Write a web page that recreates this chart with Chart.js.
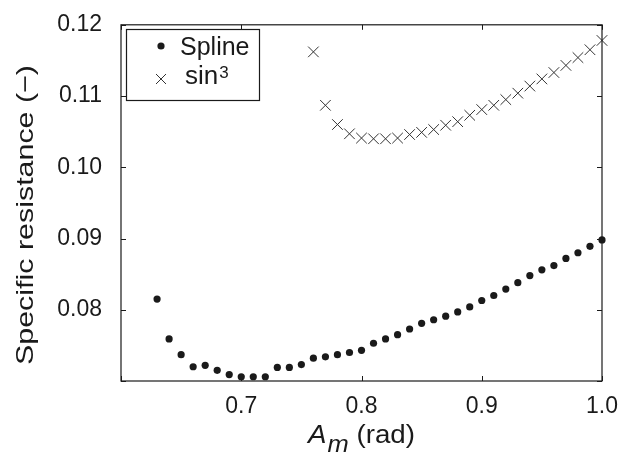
<!DOCTYPE html>
<html>
<head>
<meta charset="utf-8">
<script src="https://cdn.jsdelivr.net/npm/chart.js@4.4.1/dist/chart.umd.min.js"></script>
<style>
  html, body { margin: 0; padding: 0; background: #fff; }
  #wrap { width: 630px; height: 459px; }
</style>
</head>
<body>
<div id="wrap"><canvas id="chart" width="630" height="459"></canvas></div>
<script>
// values
const splineAm = [0.63, 0.64, 0.65, 0.66, 0.67, 0.68, 0.69, 0.70, 0.71, 0.72,
                  0.73, 0.74, 0.75, 0.76, 0.77, 0.78, 0.79, 0.80, 0.81, 0.82,
                  0.83, 0.84, 0.85, 0.86, 0.87, 0.88, 0.89, 0.90, 0.91, 0.92,
                  0.93, 0.94, 0.95, 0.96, 0.97, 0.98, 0.99, 1.00];
const splineRes = [0.0815, 0.0759, 0.0737, 0.0720, 0.0722, 0.0715, 0.0709, 0.0706, 0.0706, 0.0706,
                   0.0719, 0.0719, 0.0723, 0.0732, 0.0734, 0.0737, 0.0740, 0.0743, 0.0753, 0.0759,
                   0.0765, 0.0773, 0.0781, 0.0786, 0.0791, 0.0797, 0.0804, 0.0813, 0.0820, 0.0829,
                   0.0838, 0.0848, 0.0856, 0.0862, 0.0872, 0.0880, 0.0889, 0.0898];
const sinAm = [0.76, 0.77, 0.78, 0.79, 0.80, 0.81, 0.82, 0.83, 0.84, 0.85,
               0.86, 0.87, 0.88, 0.89, 0.90, 0.91, 0.92, 0.93, 0.94, 0.95,
               0.96, 0.97, 0.98, 0.99, 1.00];
const sinRes = [0.1162, 0.1087, 0.1060, 0.1047, 0.1041, 0.1040, 0.1040, 0.1041, 0.1046, 0.1049,
                0.1053, 0.1059, 0.1064, 0.1073, 0.1081, 0.1087, 0.1095, 0.1104, 0.1114, 0.1124,
                0.1133, 0.1143, 0.1154, 0.1165, 0.1178];
const xTicks = [0.6, 0.7, 0.8, 0.9, 1.0];
const yTicks = [0.07, 0.08, 0.09, 0.10, 0.11, 0.12];
const legendLabels = ['Spline', 'sin', '3'];
const yTitle = 'Specific resistance (\u2212)';
const xTitle = ['A', 'm', ' (rad)'];

const FONT = '"Liberation Sans", Arial, Helvetica, sans-serif';
const INK = '#1a1a1a';

const toPts = (xs, ys) => xs.map((x, i) => ({ x: x, y: ys[i] }));

// frame, inward ticks, legend, axis titles
const decor = {
  id: 'decor',
  afterDraw(chart) {
    const { ctx, chartArea: a, scales: { x, y } } = chart;
    ctx.save();
    ctx.strokeStyle = INK;
    ctx.lineWidth = 1.2;
    ctx.strokeRect(a.left, a.top, a.right - a.left, a.bottom - a.top);

    const tl = 5;
    ctx.beginPath();
    xTicks.forEach(v => {
      const px = Math.round(x.getPixelForValue(v)) + 0.5;
      ctx.moveTo(px, a.bottom); ctx.lineTo(px, a.bottom - tl);
      ctx.moveTo(px, a.top); ctx.lineTo(px, a.top + tl);
    });
    yTicks.forEach(v => {
      const py = Math.round(y.getPixelForValue(v)) + 0.5;
      ctx.moveTo(a.left, py); ctx.lineTo(a.left + tl, py);
      ctx.moveTo(a.right, py); ctx.lineTo(a.right - tl, py);
    });
    ctx.lineWidth = 1;
    ctx.stroke();

    // legend
    const lx = 126.5, ly = 29.5, lw = 133, lh = 71;
    ctx.fillStyle = '#fff';
    ctx.fillRect(lx, ly, lw, lh);
    ctx.lineWidth = 1.2;
    ctx.strokeRect(lx, ly, lw, lh);
    ctx.fillStyle = INK;
    ctx.beginPath();
    ctx.arc(161, 46, 3.6, 0, Math.PI * 2);
    ctx.fill();
    ctx.beginPath();
    ctx.moveTo(156, 74); ctx.lineTo(166, 84);
    ctx.moveTo(166, 74); ctx.lineTo(156, 84);
    ctx.lineWidth = 1;
    ctx.strokeStyle = '#333';
    ctx.stroke();
    ctx.textBaseline = 'alphabetic';
    ctx.textAlign = 'left';
    ctx.font = '25px ' + FONT;
    ctx.fillText(legendLabels[0], 180, 55);
    ctx.font = '26px ' + FONT;
    ctx.fillText(legendLabels[1], 185, 84);
    const sw = ctx.measureText(legendLabels[1]).width;
    ctx.font = '17px ' + FONT;
    ctx.fillText(legendLabels[2], 185 + sw + 1, 78);

    // x title, stretched to the width seen in the figure
    const fA = 'italic 25px ' + FONT, fm = 'italic 23px ' + FONT, fr = '25px ' + FONT;
    ctx.font = fA; const wA = ctx.measureText(xTitle[0]).width;
    ctx.font = fm; const wm = ctx.measureText(xTitle[1]).width;
    ctx.font = fr; const wr = ctx.measureText(xTitle[2]).width;
    const sx = 107 / (wA + 1 + wm + wr);
    ctx.save();
    ctx.translate(308, 0);
    ctx.scale(sx, 1);
    let tx = 0;
    ctx.font = fA; ctx.fillText(xTitle[0], tx, 443);
    tx += wA + 1;
    ctx.font = fm; ctx.fillText(xTitle[1], tx, 452);
    tx += wm;
    ctx.font = fr; ctx.fillText(xTitle[2], tx, 443);
    ctx.restore();

    // y title
    ctx.translate(33, 215);
    ctx.rotate(-Math.PI / 2);
    ctx.textAlign = 'center';
    ctx.font = '24px ' + FONT;
    const wy = ctx.measureText(yTitle).width;
    ctx.scale(300 / wy, 1);
    ctx.fillText(yTitle, 0, 0);
    ctx.restore();
  }
};

new Chart(document.getElementById('chart'), {
  type: 'scatter',
  data: {
    datasets: [
      {
        label: 'Spline',
        data: toPts(splineAm, splineRes),
        pointStyle: 'circle',
        pointRadius: 3.6,
        pointBackgroundColor: INK,
        pointBorderColor: INK,
        pointBorderWidth: 0,
        clip: false
      },
      {
        label: 'sin3',
        data: toPts(sinAm, sinRes),
        pointStyle: 'crossRot',
        pointRadius: 7.5,
        pointBorderColor: '#333',
        pointBorderWidth: 1,
        clip: false
      }
    ]
  },
  plugins: [decor],
  options: {
    responsive: false,
    animation: false,
    events: [],
    layout: { padding: { top: 17, right: 28, left: 0, bottom: 0 } },
    plugins: { legend: { display: false }, tooltip: { enabled: false } },
    scales: {
      x: {
        type: 'linear',
        min: 0.6,
        max: 1.0,
        afterBuildTicks: s => { s.ticks = xTicks.map(v => ({ value: v })); },
        afterFit: s => { s.height = 78; },
        grid: { display: false },
        border: { display: false },
        ticks: {
          padding: 4,
          color: INK,
          font: { family: FONT, size: 23 },
          maxRotation: 0,
          callback: v => (Math.abs(v - 0.6) < 1e-9 ? '' : v.toFixed(1))
        }
      },
      y: {
        type: 'linear',
        min: 0.07,
        max: 0.12,
        afterBuildTicks: s => { s.ticks = yTicks.map(v => ({ value: v })); },
        afterFit: s => { s.width = 121; },
        grid: { display: false },
        border: { display: false },
        ticks: {
          padding: 11,
          color: INK,
          font: { family: FONT, size: 23 },
          callback: v => (Math.abs(v - 0.07) < 1e-9 ? '' : v.toFixed(2))
        }
      }
    }
  }
});
</script>
</body>
</html>
